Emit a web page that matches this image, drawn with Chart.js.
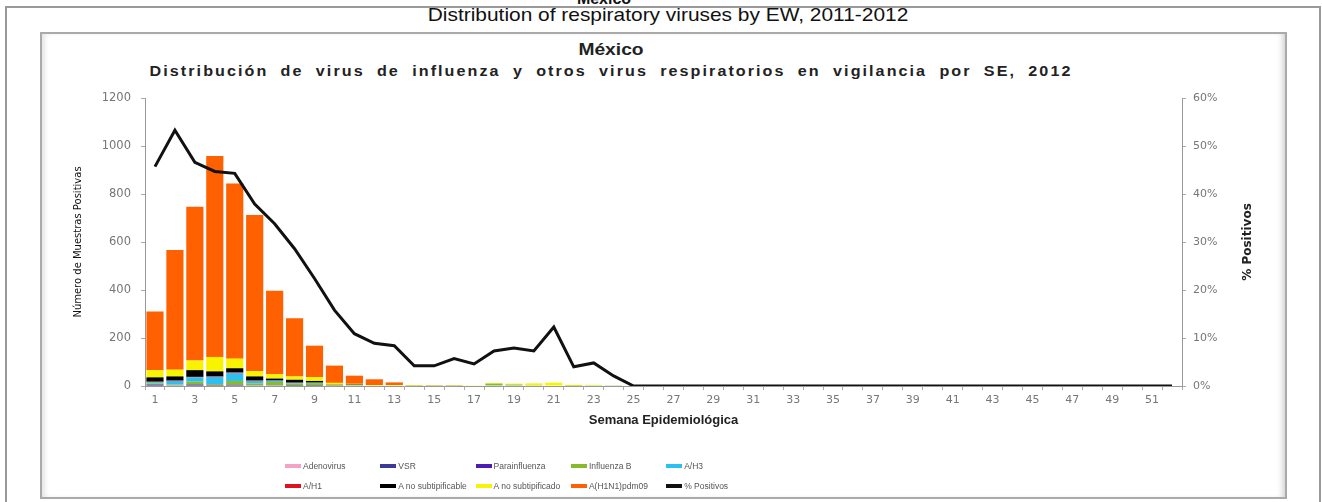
<!DOCTYPE html>
<html>
<head>
<meta charset="utf-8">
<script src="https://cdn.jsdelivr.net/npm/chart.js@4.4.1/dist/chart.umd.min.js"></script>
<style>
  html, body { margin: 0; padding: 0; background: #fff; }
  body { width: 1322px; height: 502px; position: relative; overflow: hidden;
         font-family: "Liberation Sans", Arial, sans-serif; }
  .abs { position: absolute; white-space: nowrap; }
  #pageTitle { top: -10px; left: 604px; transform: translateX(-50%); font-weight: bold; font-size: 16px; color: #111; }
  #outer { left: 5px; top: 6px; width: 1312px; height: 600px; border: 2px solid #999; }
  #caption { top: 4px; left: 668px; transform: translateX(-50%) scaleX(1.1); font-size: 19px; color: #111; }
  #inner { left: 40px; top: 32px; width: 1243px; height: 463px; border: 2px solid #aaa;
           box-shadow: inset 6px 0 6px -4px #ddd, inset -6px 0 6px -4px #ccc; }
  #chartTitle { top: 41px; left: 611px; transform: translateX(-50%) scaleX(1.2); font-weight: bold; font-size: 16px; color: #222; }
  #chartSub { top: 63px; left: 611px; transform: translateX(-50%) scaleX(1.15); font-weight: bold; font-size: 14px;
              color: #222; letter-spacing: 1.8px; word-spacing: 5px; }
  #chartWrap { left: 0; top: 0; width: 1322px; height: 502px; }
  #legend { left: 285px; top: 460px; display: grid; grid-template-columns: repeat(5, 95.3px);
            row-gap: 8px; font-size: 8.5px; color: #555; }
  #legend div { display: flex; align-items: center; height: 12px; }
  #legend span.sw { display: inline-block; width: 16px; height: 4px; margin-right: 2px; }
</style>
</head>
<body>
<div id="pageTitle" class="abs">México</div>
<div id="outer" class="abs"></div>
<div id="caption" class="abs">Distribution of respiratory viruses by EW, 2011-2012</div>
<div id="inner" class="abs"></div>
<div id="chartTitle" class="abs">México</div>
<div id="chartSub" class="abs">Distribución de virus de influenza y otros virus respiratorios en vigilancia por SE, 2012</div>
<div id="chartWrap" class="abs"><canvas id="fluChart"></canvas></div>
<div id="legend" class="abs"></div>

<script>
const weeks = [1, 2, 3, 4, 5, 6, 7, 8, 9, 10, 11, 12, 13, 14, 15, 16, 17, 18, 19, 20, 21, 22, 23, 24, 25, 26,
  27, 28, 29, 30, 31, 32, 33, 34, 35, 36, 37, 38, 39, 40, 41, 42, 43, 44, 45, 46, 47, 48, 49, 50, 51, 52];

const adenovirus = [1, 0, 1, 1, 1, 0, 0, 0, 0, 0, 0, 0, 0, 0, 0, 0, 0, 0, 0, 0, 0, 0, 0, 0, 0, 0,
  0, 0, 0, 0, 0, 0, 0, 0, 0, 0, 0, 0, 0, 0, 0, 0, 0, 0, 0, 0, 0, 0, 0, 0, 0, 0];
const vsr = [3, 2, 3, 2, 2, 2, 2, 1, 1, 0, 0, 0, 0, 0, 0, 0, 0, 0, 0, 0, 0, 0, 0, 0, 0, 0,
  0, 0, 0, 0, 0, 0, 0, 0, 0, 0, 0, 0, 0, 0, 0, 0, 0, 0, 0, 0, 0, 0, 0, 0, 0, 0];
const parainfluenza = [2, 1, 2, 1, 2, 1, 1, 1, 1, 0, 0, 0, 0, 0, 0, 0, 0, 0, 0, 0, 0, 0, 0, 0, 0, 0,
  0, 0, 0, 0, 0, 0, 0, 0, 0, 0, 0, 0, 0, 0, 0, 0, 0, 0, 0, 0, 0, 0, 0, 0, 0, 0];
const influenzaB = [5, 3, 12, 4, 16, 8, 14, 8, 10, 3, 4, 2, 2, 1, 1, 1, 2, 10, 6, 3, 2, 1, 3, 1, 0, 0,
  0, 0, 0, 0, 0, 0, 0, 0, 0, 0, 0, 0, 0, 0, 0, 0, 0, 0, 0, 0, 0, 0, 0, 0, 0, 0];
const aH3 = [5, 15, 18, 30, 33, 10, 5, 3, 2, 0, 0, 0, 0, 0, 0, 0, 0, 0, 0, 0, 0, 0, 0, 0, 0, 0,
  0, 0, 0, 0, 0, 0, 0, 0, 0, 0, 0, 0, 0, 0, 0, 0, 0, 0, 0, 0, 0, 0, 0, 0, 0, 0];
const aH1 = [2, 2, 2, 2, 3, 2, 1, 1, 0, 0, 0, 0, 0, 0, 0, 0, 0, 0, 0, 0, 0, 0, 0, 0, 0, 0,
  0, 0, 0, 0, 0, 0, 0, 0, 0, 0, 0, 0, 0, 0, 0, 0, 0, 0, 0, 0, 0, 0, 0, 0, 0, 0];
const aNoSubtipificable = [18, 17, 28, 21, 17, 17, 8, 12, 7, 2, 2, 0, 0, 0, 0, 0, 0, 0, 0, 0, 0, 0, 0, 0, 0, 0,
  0, 0, 0, 0, 0, 0, 0, 0, 0, 0, 0, 0, 0, 0, 0, 0, 0, 0, 0, 0, 0, 0, 0, 0, 0, 0];
const aNoSubtipificado = [30, 28, 40, 60, 40, 22, 18, 14, 16, 8, 3, 2, 2, 2, 1, 1, 1, 3, 4, 8, 12, 4, 2, 0, 0, 0,
  0, 0, 0, 0, 0, 0, 0, 0, 0, 0, 0, 0, 0, 0, 0, 0, 0, 0, 0, 0, 0, 0, 0, 0, 0, 0];
const h1n1pdm09 = [244, 499, 641, 837, 730, 650, 348, 242, 131, 72, 34, 24, 11, 1, 1, 1, 0, 0, 0, 0, 0, 0, 0, 0, 0, 0,
  0, 0, 0, 0, 0, 0, 0, 0, 0, 0, 0, 0, 0, 0, 0, 0, 0, 0, 0, 0, 0, 0, 0, 0, 0, 0];
const pctPositive = [45.7, 53.3, 46.6, 44.7, 44.3, 37.9, 33.8, 28.6, 22.4, 15.8, 10.9, 8.9, 8.4, 4.2, 4.2, 5.7,
  4.6, 7.3, 7.9, 7.3, 12.3, 4.0, 4.8, 2.1, 0, 0, 0, 0, 0, 0, 0, 0, 0, 0, 0, 0, 0, 0, 0, 0, 0, 0, 0, 0, 0, 0,
  0, 0, 0, 0, 0, 0];

const countTicks = [0, 200, 400, 600, 800, 1000, 1200];
const pctTicks = [0, 10, 20, 30, 40, 50, 60];

Chart.defaults.font.family = '"DejaVu Sans", sans-serif';
Chart.defaults.color = "#777";

function barSet(label, data, color) {
  return { type: "bar", label, data, backgroundColor: color, borderWidth: 0, yAxisID: "y", order: 2 };
}

// right axis title reads bottom-to-top in the original, chart.js turns it the other way
const rightTitle = {
  id: "rightTitle",
  afterDraw(chart) {
    const s = chart.scales.y1;
    const ctx = chart.ctx;
    ctx.save();
    ctx.translate(s.right - 8, (s.top + s.bottom) / 2);
    ctx.rotate(-Math.PI / 2);
    ctx.font = 'bold 12px "DejaVu Sans", sans-serif';
    ctx.fillStyle = "#222";
    ctx.textAlign = "center";
    ctx.textBaseline = "middle";
    ctx.fillText("% Positivos", 0, 0);
    ctx.restore();
  },
};

const fluChart = new Chart(document.getElementById("fluChart"), {
  data: {
    labels: weeks,
    datasets: [
      barSet("Adenovirus", adenovirus, "#f4a3c8"),
      barSet("VSR", vsr, "#3c3c96"),
      barSet("Parainfluenza", parainfluenza, "#4b1db5"),
      barSet("Influenza  B", influenzaB, "#86bb2c"),
      barSet("A/H3", aH3, "#2cc0f0"),
      barSet("A/H1", aH1, "#e0121e"),
      barSet("A no subtipificable", aNoSubtipificable, "#000000"),
      barSet("A no subtipificado", aNoSubtipificado, "#f8f400"),
      barSet("A(H1N1)pdm09", h1n1pdm09, "#ff6100"),
      {
        type: "line",
        label: "% Positivos",
        data: pctPositive,
        borderColor: "#111",
        backgroundColor: "#111",
        borderWidth: 3,
        pointRadius: 0,
        tension: 0,
        yAxisID: "y1",
        order: 0,
      },
    ],
  },
  plugins: [rightTitle],
  options: {
    responsive: true,
    maintainAspectRatio: false,
    animation: false,
    layout: { padding: { left: 60, right: 66, top: 98, bottom: 70 } },
    datasets: { bar: { barPercentage: 0.86, categoryPercentage: 1 } },
    plugins: {
      legend: { display: false },
      tooltip: { enabled: false },
    },
    scales: {
      x: {
        stacked: true,
        grid: { drawOnChartArea: false, tickLength: 4, color: "#aaa" },
        border: { color: "#999" },
        ticks: {
          autoSkip: false,
          maxRotation: 0,
          padding: 4,
          font: { size: 11 },
          callback: (v, i) => (i % 2 === 0 ? weeks[i] : ""),
        },
        title: {
          display: true,
          text: "Semana Epidemiológica",
          color: "#222",
          font: { family: '"Liberation Sans", Arial, sans-serif', size: 13, weight: "bold" },
          padding: { top: 0, bottom: 4 },
        },
        afterFit: (s) => { s.height = 46; },
      },
      y: {
        stacked: true,
        min: 0,
        max: 1200,
        afterBuildTicks: (s) => { s.ticks = countTicks.map(v => ({ value: v })); },
        grid: { drawOnChartArea: false, tickLength: 4, color: "#aaa" },
        border: { color: "#999" },
        ticks: { padding: 10, font: { size: 11.5 }, callback: v => String(v) },
        title: {
          display: true,
          text: "Número de Muestras Positivas",
          color: "#111",
          font: { size: 10 },
          padding: { top: 12, bottom: 0 },
        },
        afterFit: (s) => { s.width = 85; },
      },
      y1: {
        position: "right",
        min: 0,
        max: 60,
        afterBuildTicks: (s) => { s.ticks = pctTicks.map(v => ({ value: v })); },
        grid: { drawOnChartArea: false, tickLength: 4, color: "#aaa" },
        border: { color: "#999" },
        ticks: { padding: 7, font: { size: 11 }, callback: v => v + "%" },
        afterFit: (s) => { s.width = 74; },
      },
    },
  },
});

// html legend in the 5 x 2 grid of the original
function buildLegend(chart) {
  const box = document.getElementById("legend");
  chart.data.datasets.forEach(ds => {
    const item = document.createElement("div");
    const sw = document.createElement("span");
    sw.className = "sw";
    sw.style.background = ds.type === "line" ? ds.borderColor : ds.backgroundColor;
    item.appendChild(sw);
    item.appendChild(document.createTextNode(ds.label));
    box.appendChild(item);
  });
}
buildLegend(fluChart);
</script>
</body>
</html>
